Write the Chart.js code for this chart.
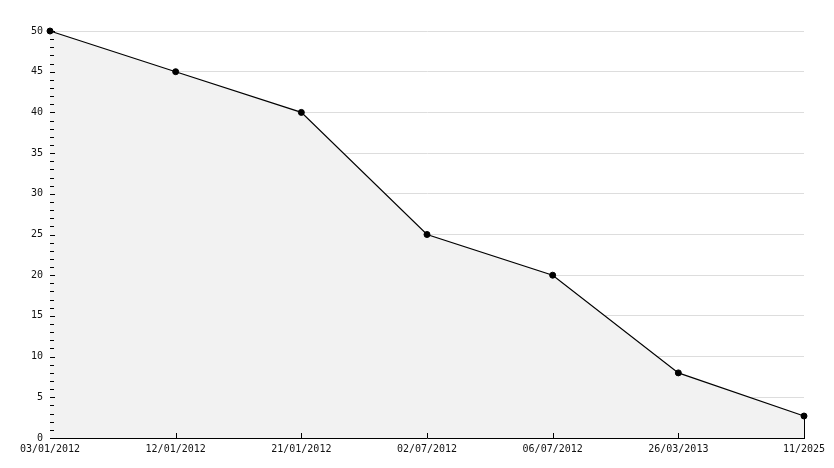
<!DOCTYPE html>
<html>
<head>
<meta charset="utf-8">
<script src="https://cdn.jsdelivr.net/npm/chart.js@4/dist/chart.umd.min.js"></script>
<style>
html,body{margin:0;padding:0;background:#fff;}
canvas{display:block;}
</style>
</head>
<body>
<canvas id="c" width="834" height="468"></canvas>
<script>
const categories = ["03/01/2012","12/01/2012","21/01/2012","02/07/2012","06/07/2012","26/03/2013","11/2025"];
const values = [50, 45, 40, 25, 20, 8, 2.7];
const yMin = 0, yMax = 50, yMajorStep = 5, yMinorStep = 1;

const tickPlugin = {
  id: 'inwardTicks',
  afterDatasetsDraw(chart) {
    const ctx = chart.ctx;
    const x = chart.scales.x, y = chart.scales.y;
    const area = chart.chartArea;
    ctx.save();
    ctx.strokeStyle = '#000';
    ctx.lineWidth = 1;
    ctx.beginPath();
    for (let v = yMin; v <= yMax; v += yMinorStep) {
      const py = Math.round(y.getPixelForValue(v)) + 0.5;
      const len = (v % yMajorStep === 0) ? 5 : 4;
      ctx.moveTo(area.left, py);
      ctx.lineTo(area.left + len, py);
    }
    for (let i = 1; i < categories.length; i++) {
      const px = Math.round(x.getPixelForValue(i)) + 0.5;
      ctx.moveTo(px, area.bottom);
      ctx.lineTo(px, area.bottom - 5);
    }
    const li = values.length - 1;
    const lx = Math.round(x.getPixelForValue(li)) + 0.5;
    ctx.moveTo(lx, y.getPixelForValue(values[li]));
    ctx.lineTo(lx, y.getPixelForValue(yMin));
    ctx.stroke();
    ctx.restore();
  }
};

new Chart(document.getElementById('c'), {
  type: 'line',
  data: {
    labels: categories,
    datasets: [{
      data: values,
      borderColor: '#000',
      borderWidth: 1.2,
      backgroundColor: '#f2f2f2',
      fill: 'origin',
      tension: 0,
      clip: false,
      pointStyle: 'circle',
      pointRadius: 3,
      pointBackgroundColor: '#000',
      pointBorderColor: '#000',
      pointBorderWidth: 1
    }]
  },
  options: {
    responsive: false,
    animation: false,
    events: [],
    layout: { padding: { top: 31, right: 30, left: 0, bottom: 0 } },
    plugins: { legend: { display: false }, tooltip: { enabled: false } },
    scales: {
      x: {
        offset: false,
        grid: { display: false, drawTicks: false },
        border: { display: true, color: '#000', width: 1 },
        ticks: {
          autoSkip: false, maxRotation: 0, padding: 5,
          color: '#111',
          font: { family: 'DejaVu Sans Mono', size: 10 }
        },
        afterFit(s) { s.height = 30; }
      },
      y: {
        min: yMin, max: yMax,
        grid: { color: '#dddddd', drawTicks: false },
        border: { display: true, color: '#000', width: 1 },
        ticks: {
          stepSize: yMajorStep, padding: 7,
          color: '#111',
          font: { family: 'DejaVu Sans Mono', size: 10 }
        },
        afterFit(s) { s.width = 50; }
      }
    }
  },
  plugins: [tickPlugin]
});
</script>
</body>
</html>
